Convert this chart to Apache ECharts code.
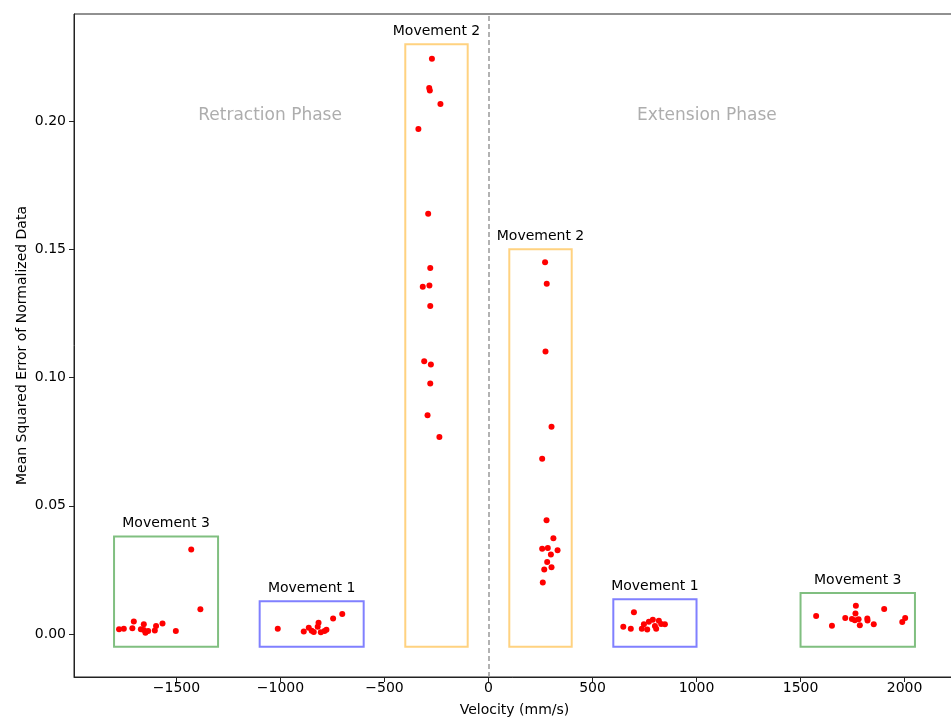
<!DOCTYPE html>
<html>
<head>
<meta charset="utf-8">
<script src="https://cdn.jsdelivr.net/npm/echarts@6/dist/echarts.min.js"></script>
<style>html,body{margin:0;padding:0;background:#fff;overflow:hidden;}#c{width:951px;height:717px;}</style>
</head>
<body>
<div id="c"></div>
<script>
// ---- data ----
const retractM3 = [[-1429,0.0330],[-1385,0.0097],[-1776,0.0019],[-1753,0.0021],[-1705,0.0049],[-1712,0.0023],[-1657,0.0038],[-1671,0.0019],[-1657,0.0016],[-1649,0.0005],[-1636,0.0012],[-1598,0.0031],[-1604,0.0014],[-1567,0.0041],[-1503,0.0012]];
const retractM1 = [[-1013,0.0021],[-888,0.0010],[-864,0.0025],[-850,0.0013],[-840,0.0008],[-817,0.0044],[-821,0.0028],[-806,0.0007],[-788,0.0012],[-779,0.0017],[-747,0.0061],[-703,0.0078]];
const retractM2 = [[-272,0.2243],[-285,0.2129],[-282,0.2119],[-231,0.2067],[-337,0.1969],[-290,0.1639],[-280,0.1427],[-316,0.1354],[-284,0.1359],[-280,0.1279],[-309,0.1064],[-277,0.1051],[-280,0.0977],[-293,0.0853],[-236,0.0768]];
const extendM2 = [[272,0.1450],[280,0.1366],[274,0.1102],[303,0.0808],[258,0.0683],[279,0.0444],[312,0.0373],[258,0.0333],[285,0.0335],[332,0.0327],[300,0.0310],[282,0.0281],[303,0.0260],[268,0.0252],[261,0.0201]];
const extendM1 = [[699,0.0085],[648,0.0028],[684,0.0021],[737,0.0021],[747,0.0038],[763,0.0018],[771,0.0048],[790,0.0056],[800,0.0031],[806,0.0021],[819,0.0052],[830,0.0039],[848,0.0038]];
const extendM3 = [[1575,0.0070],[1651,0.0032],[1715,0.0063],[1747,0.0059],[1766,0.0110],[1764,0.0080],[1761,0.0054],[1779,0.0058],[1785,0.0034],[1821,0.0061],[1822,0.0053],[1852,0.0038],[1902,0.0098],[1989,0.0047],[2003,0.0063]];

// boxes
const boxNames = ['Movement 3','Movement 1','Movement 2','Movement 2','Movement 1','Movement 3'];
const boxX0 = [-1800,-1100,-400,100,600,1500];
const boxX1 = [-1300,-600,-100,400,1000,2050];
const boxY0 = [-0.005,-0.005,-0.005,-0.005,-0.005,-0.005];
const boxY1 = [0.038,0.0128,0.23,0.15,0.0136,0.016];
const boxColorKeys = ['green','blue','orange','orange','blue','green'];

const phaseNames = ['Retraction Phase','Extension Phase'];
const phaseX = [-1050,1050];
const phaseY = [0.202,0.202];

const xTicks = [-1500,-1000,-500,0,500,1000,1500,2000];
const yTicks = [0,0.05,0.10,0.15,0.20];

// ---- styles ----
const boxColors = {green:'#80bf80', blue:'#8080ff', orange:'#ffd280'};
const FONT = 'DejaVu Sans';

const chart = echarts.init(document.getElementById('c'), null, {renderer:'canvas', width:951, height:717});

const allPoints = [].concat(retractM3, retractM1, retractM2, extendM2, extendM1, extendM3);

const markAreaData = boxNames.map((n,i)=>[
  {name:n, coord:[boxX0[i], boxY0[i]], itemStyle:{color:'rgba(0,0,0,0)', borderColor:boxColors[boxColorKeys[i]], borderWidth:2}},
  {coord:[boxX1[i], boxY1[i]]}
]);

chart.setOption({
  animation:false,
  grid:{left:74, right:-4, top:14, bottom:40, show:true, borderColor:'#222', borderWidth:1, backgroundColor:'transparent', outerBoundsMode:'none', containLabel:false},
  xAxis:{
    type:'value', min:-1992.5, max:2242.5,
    name:'Velocity (mm/s)', nameLocation:'middle', nameGap:26, nameMoveOverlap:false,
    nameTextStyle:{fontFamily:FONT, fontSize:14, color:'#000'},
    splitLine:{show:false},
    axisLine:{show:true, onZero:false, lineStyle:{color:'#222', width:1}},
    axisTick:{show:true, length:5, lineStyle:{color:'#222'}, customValues:xTicks},
    axisLabel:{fontFamily:FONT, fontSize:14, color:'#000', margin:4, customValues:xTicks,
      formatter:v=> (v<0?'\u2212'+Math.abs(v):String(v))}
  },
  yAxis:{
    type:'value', min:-0.01675, max:0.24175,
    name:'Mean Squared Error of Normalized Data', nameLocation:'middle', nameGap:45, nameMoveOverlap:false,
    nameTextStyle:{fontFamily:FONT, fontSize:14, color:'#000'},
    splitLine:{show:false},
    axisLine:{show:true, onZero:false, lineStyle:{color:'#222', width:1}},
    axisTick:{show:true, length:5, lineStyle:{color:'#222'}, customValues:yTicks},
    axisLabel:{fontFamily:FONT, fontSize:14, color:'#000', margin:8, customValues:yTicks,
      formatter:v=>v.toFixed(2)}
  },
  series:[
    {
      type:'scatter', data:allPoints, symbolSize:6, z:5,
      itemStyle:{color:'#ff0000', opacity:1},
      markArea:{
        silent:true,
        label:{show:true, position:'top', distance:5, fontFamily:FONT, fontSize:14, color:'#000'},
        data:markAreaData
      },
      markLine:{
        silent:true, symbol:['none','none'],
        lineStyle:{color:'#999', type:[5,3], width:1.5},
        label:{show:false},
        data:[{xAxis:0}]
      }
    },
    {
      type:'scatter', symbolSize:0, z:3,
      data:phaseNames.map((n,i)=>({value:[phaseX[i],phaseY[i]], name:n})),
      label:{show:true, position:'inside', formatter:p=>p.name, fontFamily:FONT, fontSize:17, color:'#999'}
    }
  ]
});
</script>
</body>
</html>
